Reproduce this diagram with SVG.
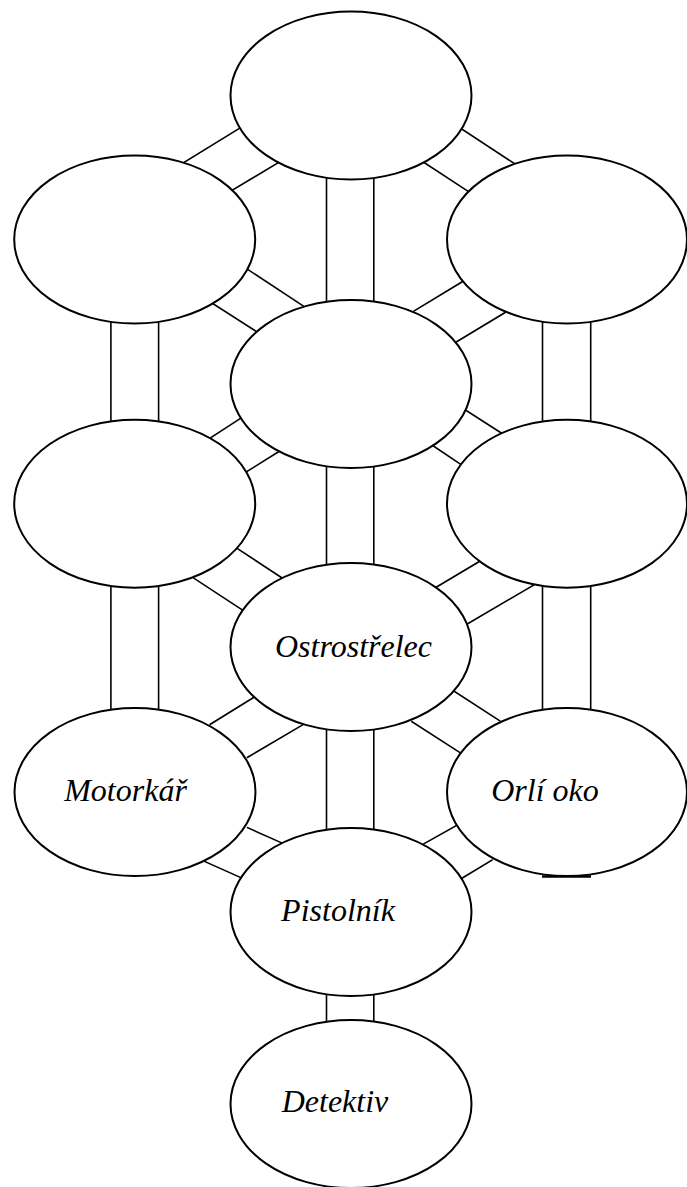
<svg xmlns="http://www.w3.org/2000/svg" width="687" height="1187" viewBox="0 0 687 1187">
<style>
.bg{fill:#ffffff}
.n{fill:#ffffff;stroke:#000000;stroke-width:2}
.c line{stroke:#000000;stroke-width:1.6;stroke-linecap:square}
.t{font-family:"Liberation Serif","Times New Roman",serif;font-style:italic;font-size:32px;fill:#000000;text-anchor:middle}
</style>
<rect class="bg" x="0" y="0" width="687" height="1187"/>
<g id="connectors" class="c">
<line x1="326.5" y1="175" x2="326.5" y2="305"/><line x1="373.8" y1="175" x2="373.8" y2="305"/>
<line x1="326.5" y1="462" x2="326.5" y2="570"/><line x1="373.8" y1="462" x2="373.8" y2="570"/>
<line x1="326.5" y1="725" x2="326.5" y2="835"/><line x1="373.8" y1="725" x2="373.8" y2="835"/>
<line x1="326.5" y1="990" x2="326.5" y2="1025"/><line x1="373.8" y1="990" x2="373.8" y2="1025"/>
<line x1="110.9" y1="320" x2="110.9" y2="425"/><line x1="158.6" y1="320" x2="158.6" y2="425"/>
<line x1="110.9" y1="584" x2="110.9" y2="712"/><line x1="158.6" y1="584" x2="158.6" y2="712"/>
<line x1="542.5" y1="320" x2="542.5" y2="425"/><line x1="590.7" y1="320" x2="590.7" y2="425"/>
<line x1="542.5" y1="584" x2="542.5" y2="712"/><line x1="590.7" y1="584" x2="590.7" y2="712"/>
<line x1="184" y1="162.5" x2="239.5" y2="128.3"/><line x1="232.7" y1="190" x2="278.5" y2="162.5"/>
<line x1="461.7" y1="129" x2="514" y2="163.3"/><line x1="424" y1="162.5" x2="467.5" y2="191"/>
<line x1="247.6" y1="269.3" x2="303.2" y2="306"/><line x1="213.4" y1="304" x2="256.8" y2="331.7"/>
<line x1="462.3" y1="281.7" x2="414.1" y2="311"/><line x1="504.8" y1="312.7" x2="455.7" y2="342.3"/>
<line x1="211.2" y1="437.3" x2="240.6" y2="418.3"/><line x1="246.7" y1="471.7" x2="278.7" y2="451.7"/>
<line x1="465.4" y1="410" x2="501.8" y2="433.3"/><line x1="433" y1="445.7" x2="460.1" y2="464"/>
<line x1="237.1" y1="548.3" x2="282.6" y2="578.3"/><line x1="194.1" y1="578.3" x2="242.3" y2="610"/>
<line x1="479" y1="561.7" x2="436" y2="587.3"/><line x1="533.7" y1="585" x2="466.7" y2="624.3"/>
<line x1="210.3" y1="724.3" x2="253.3" y2="697.7"/><line x1="247.6" y1="757.3" x2="302.4" y2="725"/>
<line x1="454.9" y1="691.7" x2="499.6" y2="720.7"/><line x1="412" y1="721.7" x2="460.1" y2="752.7"/>
<line x1="247.6" y1="827.7" x2="282.6" y2="843.3"/><line x1="205.1" y1="861.7" x2="240.1" y2="877.3"/>
<line x1="455.5" y1="826" x2="423.5" y2="844"/><line x1="492" y1="860" x2="461.8" y2="878.3"/>
</g>
<g id="n-top"><ellipse class="n" cx="351" cy="95.5" rx="120.5" ry="84"/></g>
<g id="n-upper-left"><ellipse class="n" cx="134.7" cy="239.5" rx="120.5" ry="84"/></g>
<g id="n-upper-right"><ellipse class="n" cx="567" cy="239.5" rx="120" ry="84"/></g>
<g id="n-center"><ellipse class="n" cx="351" cy="384" rx="120.5" ry="84"/></g>
<g id="n-mid-left"><ellipse class="n" cx="134.7" cy="503.7" rx="120.5" ry="84"/></g>
<g id="n-mid-right"><ellipse class="n" cx="567" cy="503.7" rx="120" ry="84"/></g>
<g id="n-ostrostrelec"><ellipse class="n" cx="351" cy="647" rx="120.5" ry="84"/><text class="t" x="353.5" y="657">Ostrostřelec</text></g>
<g id="n-motorkar"><ellipse class="n" cx="135" cy="792" rx="120.5" ry="84"/><text class="t" x="125.5" y="801">Motorkář</text></g>
<g id="n-orli-oko"><ellipse class="n" cx="567" cy="792" rx="120" ry="84"/><text class="t" x="545" y="801">Orlí oko</text><line x1="542" y1="876.5" x2="591" y2="876.5" stroke="#000" stroke-width="2.5"/></g>
<g id="n-pistolnik"><ellipse class="n" cx="351" cy="912" rx="120.5" ry="84"/><text class="t" x="338" y="921">Pistolník</text></g>
<g id="n-detektiv"><ellipse class="n" cx="351" cy="1104" rx="120.5" ry="84"/><text class="t" x="335" y="1112">Detektiv</text></g>
</svg>
